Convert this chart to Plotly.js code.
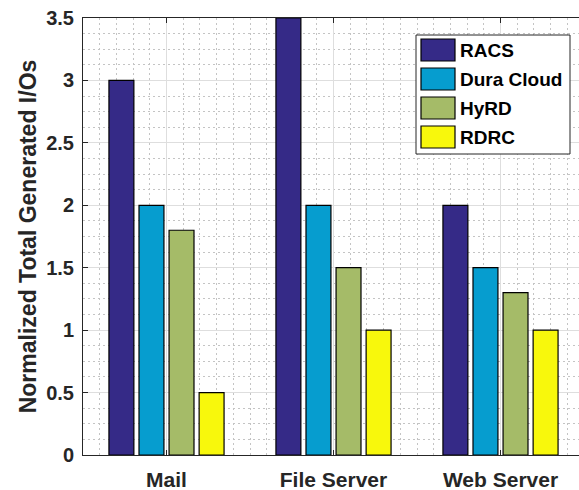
<!DOCTYPE html>
<html>
<head>
<meta charset="utf-8">
<script src="https://cdn.plot.ly/plotly-3.0.1.min.js"></script>
<style>
  html, body { margin: 0; padding: 0; overflow: hidden; background: #fff; }
  #chart { width: 600px; height: 490px; }
</style>
</head>
<body>
<div id="chart"></div>
<script>
// ---- data ----
const categories = ["Mail", "File Server", "Web Server"];
const seriesNames = ["RACS", "Dura Cloud", "HyRD", "RDRC"];
const racs      = [3.0, 3.5, 2.0];
const duraCloud = [2.0, 2.0, 1.5];
const hyrd      = [1.8, 1.5, 1.3];
const rdrc      = [0.5, 1.0, 1.0];
const yTickVals = [0, 0.5, 1, 1.5, 2, 2.5, 3, 3.5];

const seriesValues = [racs, duraCloud, hyrd, rdrc];
const colors = ["#352a87", "#069dcf", "#a5bb68", "#f8f80c"];
const xPos = categories.map((c, i) => i + 1);

const traces = seriesValues.map((vals, i) => ({
  type: "bar",
  name: seriesNames[i],
  x: xPos,
  y: vals,
  marker: { color: colors[i], line: { color: "#000000", width: 1.2 } },
  showlegend: false,
  hoverinfo: "x+y+name"
}));

// ---- layout geometry (pixels) ----
const W = 600, H = 490;
const L = 83, T = 18, B = 35, R = W - 584;
const plotW = W - L - R, plotH = H - T - B;
const px = v => (v - L) / plotW;
const py = v => (H - B - v) / plotH;

const textColor = "#262626";
const font = "Liberation Sans, Arial, Helvetica, sans-serif";

// custom legend (large swatches like the reference)
const shapes = [];
const annotations = [];
shapes.push({
  type: "rect", xref: "paper", yref: "paper",
  x0: px(416), x1: px(570), y0: py(154), y1: py(35),
  fillcolor: "#ffffff", line: { color: "#262626", width: 1 }, layer: "above"
});
const rowTops = [39, 68, 97, 126];
seriesNames.forEach((name, i) => {
  shapes.push({
    type: "rect", xref: "paper", yref: "paper",
    x0: px(421), x1: px(455), y0: py(rowTops[i] + 22), y1: py(rowTops[i]),
    fillcolor: colors[i], line: { color: "#000000", width: 1.2 }, layer: "above"
  });
  annotations.push({
    xref: "paper", yref: "paper", x: px(458), y: py(rowTops[i] + 11.5),
    xanchor: "left", yanchor: "middle", showarrow: false,
    text: "<b>" + name + "</b>",
    font: { family: font, size: 19, color: "#000000" }
  });
});

const layout = {
  width: W, height: H,
  margin: { l: L, r: R, t: T, b: B, pad: 0 },
  paper_bgcolor: "#ffffff", plot_bgcolor: "#ffffff",
  barmode: "group", bargap: 0.28, bargroupgap: 0.17,
  font: { family: font, color: textColor },
  xaxis: {
    range: [0.5, 3.5],
    tickmode: "array", tickvals: xPos,
    ticktext: categories.map(c => "<b>" + c + "</b>"),
    tickfont: { family: font, size: 21, color: textColor },
    ticks: "inside", ticklen: 5, tickcolor: textColor, tickwidth: 1,
    ticklabelstandoff: 6,
    showline: true, linecolor: textColor, linewidth: 1, mirror: "ticks",
    showgrid: true, gridcolor: "#dedede", gridwidth: 1, zeroline: false,
    minor: { tickmode: "linear", tick0: 0.5, dtick: 0.1, showgrid: true,
             gridcolor: "#c4c4c4", griddash: "2px,3px", gridwidth: 1, ticks: "" },
    fixedrange: true
  },
  yaxis: {
    range: [0, 3.5],
    tickmode: "array", tickvals: yTickVals,
    ticktext: yTickVals.map(v => "<b>" + v + "</b>"),
    tickfont: { family: font, size: 20, color: textColor },
    ticks: "inside", ticklen: 5, tickcolor: textColor, tickwidth: 1,
    ticklabelstandoff: 4,
    showline: true, linecolor: textColor, linewidth: 1, mirror: "ticks",
    showgrid: true, gridcolor: "#dedede", gridwidth: 1, zeroline: false,
    minor: { tickmode: "linear", tick0: 0, dtick: 0.125, showgrid: true,
             gridcolor: "#c4c4c4", griddash: "2px,3px", gridwidth: 1, ticks: "" },
    title: { text: "<b>Normalized Total Generated I/Os</b>",
             font: { family: font, size: 23, color: textColor }, standoff: 3 },
    fixedrange: true
  },
  shapes: shapes,
  annotations: annotations,
  showlegend: false
};

Plotly.newPlot("chart", traces, layout, { displayModeBar: false, staticPlot: true });
</script>
</body>
</html>
